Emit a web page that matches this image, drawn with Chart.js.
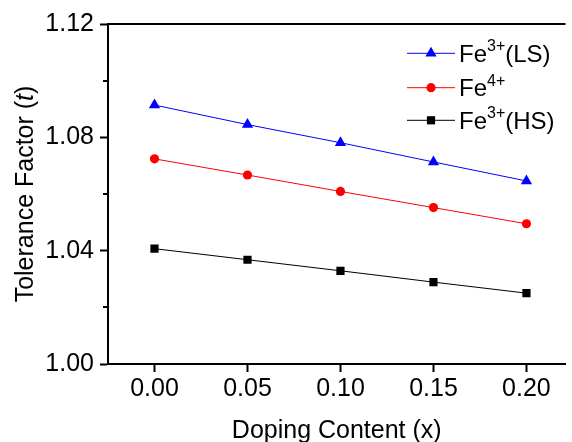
<!DOCTYPE html>
<html>
<head>
<meta charset="utf-8">
<script src="https://cdn.jsdelivr.net/npm/chart.js@4/dist/chart.umd.min.js"></script>
<style>
  html, body { margin: 0; padding: 0; background: #fff; }
  #wrap { width: 572px; height: 442px; }
</style>
</head>
<body>
<div id="wrap"><canvas id="c" width="572" height="442"></canvas></div>
<script>
// Tolerance factor vs. doping content for three Fe spin/valence states
const dopingContent = [0.00, 0.05, 0.10, 0.15, 0.20];
const fe3LS = [1.0914, 1.0845, 1.0781, 1.0713, 1.0646];
const fe4   = [1.0724, 1.0667, 1.0609, 1.0552, 1.0495];
const fe3HS = [1.0407, 1.0368, 1.0329, 1.0289, 1.0250];

const xTicks = [0.00, 0.05, 0.10, 0.15, 0.20];
const yTicks = [1.00, 1.04, 1.08, 1.12];
const yMinorTicks = [1.02, 1.06, 1.10];

// legend labels split into [base, superscript, suffix]
const seriesLabels = [
  ['Fe', '3+', '(LS)'],
  ['Fe', '4+', ''],
  ['Fe', '3+', '(HS)']
];
const xTitle = 'Doping Content (x)';
const yTitleParts = ['Tolerance Factor (', 't', ')'];

const FONT = "'Liberation Sans', Arial, sans-serif";

function pts(ys) { return dopingContent.map((x, i) => ({ x: x, y: ys[i] })); }

const styles = [
  { color: '#0000FF', shape: 'triangle', radius: 6.5 },
  { color: '#FF0000', shape: 'circle', radius: 4.6 },
  { color: '#000000', shape: 'rect', radius: 5.8 }
];
const seriesData = [fe3LS, fe4, fe3HS];

// draw a sequence of text runs with differing fonts / vertical offsets
function drawRuns(ctx, runs, x, y, align) {
  let total = 0;
  runs.forEach(r => { ctx.font = r.font; total += ctx.measureText(r.text).width; });
  let cx = align === 'center' ? x - total / 2 : x;
  ctx.textAlign = 'left';
  ctx.textBaseline = 'alphabetic';
  runs.forEach(r => {
    ctx.font = r.font;
    ctx.fillText(r.text, cx, y + (r.dy || 0));
    cx += ctx.measureText(r.text).width;
  });
}

function drawMarker(ctx, shape, x, y, r) {
  ctx.beginPath();
  if (shape === 'triangle') {
    let rad = 0;
    ctx.moveTo(x + Math.sin(rad) * r, y - Math.cos(rad) * r);
    rad += 2 * Math.PI / 3;
    ctx.lineTo(x + Math.sin(rad) * r, y - Math.cos(rad) * r);
    rad += 2 * Math.PI / 3;
    ctx.lineTo(x + Math.sin(rad) * r, y - Math.cos(rad) * r);
    ctx.closePath();
  } else if (shape === 'circle') {
    ctx.arc(x, y, r, 0, Math.PI * 2);
  } else {
    const s = Math.SQRT1_2 * r;
    ctx.rect(x - s, y - s, 2 * s, 2 * s);
  }
  ctx.fill();
}

const decorations = {
  id: 'decorations',
  afterDraw(chart) {
    const ctx = chart.ctx;
    const area = chart.chartArea;
    const yScale = chart.scales.y;
    ctx.save();
    ctx.fillStyle = '#000';
    ctx.strokeStyle = '#000';

    // top frame line
    ctx.lineWidth = 2;
    ctx.beginPath();
    ctx.moveTo(area.left - 1, area.top);
    ctx.lineTo(area.right, area.top);
    ctx.stroke();

    // minor ticks on y axis
    yMinorTicks.forEach(v => {
      const py = Math.round(yScale.getPixelForValue(v));
      ctx.beginPath();
      ctx.moveTo(area.left - 5, py);
      ctx.lineTo(area.left, py);
      ctx.stroke();
    });

    // x axis title
    drawRuns(ctx, [{ text: xTitle, font: `25px ${FONT}` }], (area.left + area.right) / 2, 438, 'center');

    // y axis title (rotated, italic t)
    ctx.save();
    ctx.translate(33, (area.top + area.bottom) / 2);
    ctx.rotate(-Math.PI / 2);
    drawRuns(ctx, [
      { text: yTitleParts[0], font: `25px ${FONT}` },
      { text: yTitleParts[1], font: `italic 25px ${FONT}` },
      { text: yTitleParts[2], font: `25px ${FONT}` }
    ], 0, 0, 'center');
    ctx.restore();

    // legend
    const rowY = [53.3, 87.7, 120.3];
    seriesLabels.forEach((lab, i) => {
      const st = styles[i];
      const y = rowY[i];
      ctx.strokeStyle = st.color;
      ctx.fillStyle = st.color;
      ctx.lineWidth = 1;
      ctx.beginPath();
      ctx.moveTo(407, y);
      ctx.lineTo(455, y);
      ctx.stroke();
      drawMarker(ctx, st.shape, 431, y, st.radius);
      ctx.fillStyle = '#000';
      drawRuns(ctx, [
        { text: lab[0], font: `24px ${FONT}` },
        { text: lab[1], font: `16px ${FONT}`, dy: -10.5 },
        { text: lab[2], font: `24px ${FONT}` }
      ], 459, y + 8.4, 'left');
    });
    ctx.restore();
  }
};

new Chart(document.getElementById('c'), {
  type: 'line',
  data: {
    datasets: seriesData.map((ys, i) => ({
      label: seriesLabels[i].join(''),
      data: pts(ys),
      borderColor: styles[i].color,
      backgroundColor: styles[i].color,
      borderWidth: 1,
      pointStyle: styles[i].shape,
      pointRadius: styles[i].radius,
      pointBorderWidth: 0,
      pointBackgroundColor: styles[i].color,
      tension: 0
    }))
  },
  options: {
    responsive: false,
    animation: false,
    devicePixelRatio: 1,
    layout: { padding: { top: 24, left: 0, right: 0, bottom: 0 } },
    plugins: { legend: { display: false }, tooltip: { enabled: false } },
    scales: {
      x: {
        type: 'linear',
        min: -0.025,
        max: 0.221,
        afterBuildTicks: s => { s.ticks = xTicks.map(v => ({ value: v })); },
        afterFit: s => { s.height = 78; },
        grid: { drawOnChartArea: false, drawTicks: true, tickLength: 8, tickColor: '#000', tickWidth: 2 },
        border: { display: true, color: '#000', width: 2 },
        ticks: {
          color: '#000', font: { family: FONT, size: 25 }, padding: 2,
          maxRotation: 0, autoSkip: false,
          callback: v => Number(v).toFixed(2)
        }
      },
      y: {
        min: 1.00,
        max: 1.12,
        afterBuildTicks: s => { s.ticks = yTicks.map(v => ({ value: v })); },
        afterFit: s => { s.width = 108; },
        grid: { drawOnChartArea: false, drawTicks: true, tickLength: 8, tickColor: '#000', tickWidth: 2 },
        border: { display: true, color: '#000', width: 2 },
        ticks: {
          color: '#000', font: { family: FONT, size: 25 }, padding: 6,
          callback: v => Number(v).toFixed(2)
        }
      }
    }
  },
  plugins: [decorations]
});
</script>
</body>
</html>
